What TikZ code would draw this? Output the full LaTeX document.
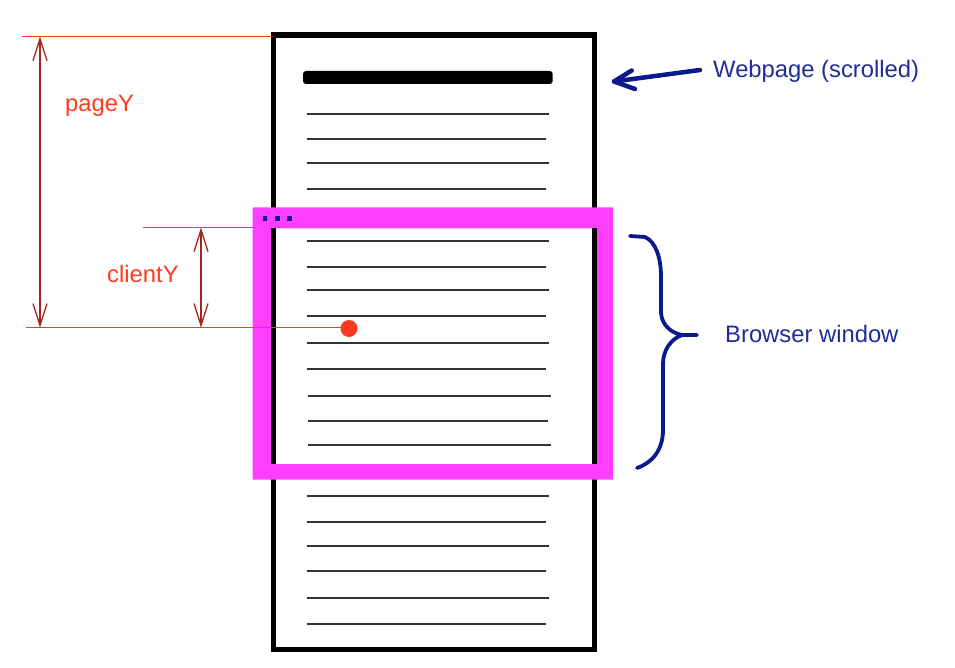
\documentclass[tikz,border=0pt]{standalone}
\usepackage{fontspec}
\setmainfont{Liberation Sans}
\usetikzlibrary{arrows.meta}
\definecolor{pinkw}{HTML}{FF3FFF}
\definecolor{redl}{HTML}{FF3A1E}
\definecolor{darkred}{HTML}{A3261E}
\definecolor{navy}{HTML}{0A1A8C}
\definecolor{navytext}{HTML}{1E2E96}
\definecolor{textline}{HTML}{333333}
\begin{document}
\begin{tikzpicture}[x=1pt,y=-1pt,
  txtline/.style={textline,line width=1.7pt},
  guide/.style={redl,line width=1.4pt},
  measure/.style={darkred,line width=1.3pt,{Straight Barb[length=22pt,width=14pt]}-{Straight Barb[length=22pt,width=14pt]}},
  redlabel/.style={inner sep=0pt,text=redl,font=\fontsize{23.8}{28}\selectfont},
  bluelabel/.style={inner sep=0pt,text=navytext,font=\fontsize{23.8}{28}\selectfont},
  bluestroke/.style={navy,line cap=round,line join=round}]
\useasboundingbox (0,0) rectangle (955,668);
\fill[white] (0,0) rectangle (955,668);

% page
\draw[line width=5.5pt] (273.5,35) rectangle (594.5,649.5);
\fill[rounded corners=3pt] (303,71) rectangle (552.7,84);
\foreach \yy/\xe in {113.7/549.3,139/546.3,163.3/549.3,188.7/546.3,
                     241.3/549.3,266.7/546.3,290.3/549.3,316/546.3,343.3/549.3,368.7/546.3,
                     496/549.3,521.7/546.3,545.7/549.3,571/546.3,598/549.3,623.7/546.3}
  \draw[txtline] (306.7,\yy) -- (\xe,\yy);
\foreach \yy/\xe in {395.7/551,421/548,445.3/551}
  \draw[txtline] (308,\yy) -- (\xe,\yy);

% browser window
\fill[pinkw,even odd rule] (252.5,207.5) rectangle (613,479.5) (271,228.5) rectangle (594,464);
\draw[line width=5.5pt] (273.5,228.5) -- (273.5,464) (594.5,228.5) -- (594.5,464);
\foreach \xx in {265,277.3,289.3}
  \fill[navy] (\xx-2.3,216) rectangle (\xx+2.3,220.6);

% guides
\coordinate (pt) at (40,36.6);
\coordinate (ct) at (201,227.5);
\coordinate (pb) at (40,327.7);
\coordinate (cb) at (201,327.7);
\draw[guide] (22,36.6) -- (273,36.6);
\draw[guide] (143,227.5) -- (253,227.5);
\draw[guide] (26,327.7) -- (341,327.7);
\fill[redl] (349,328.5) circle (8.5pt);
\draw[measure] (pt) -- (pb);
\draw[measure] (ct) -- (cb);
\node[redlabel,anchor=base west] (pagey) at (65,111.7) {pageY};
\node[redlabel,anchor=base west] (clienty) at (107,283) {clientY};

% labels on the right
\node[bluelabel,anchor=base west] (web) at (713,77.5) {Webpage (scrolled)};
\node[bluelabel,anchor=base west] (browser) at (725,342) {Browser window};
\coordinate (tail) at (700,70);
\coordinate (tip) at (614,81.5);
\draw[bluestroke,line width=4.5pt] (tail) -- (tip);
\draw[bluestroke,line width=4.5pt] (631.7,70.5) -- (tip) -- (635,89);
\draw[bluestroke,line width=3.8pt] (630,236) -- (645,237) .. controls (656,242) and (661,258) .. (661,277) -- (661,313)
  .. controls (662,326) and (672,333) .. (682,335) -- (697,335)
  (682,335) .. controls (671,339) and (663,350) .. (663,364) -- (663,430)
  .. controls (663,450) and (652,463) .. (637,468);
\end{tikzpicture}
\end{document}
